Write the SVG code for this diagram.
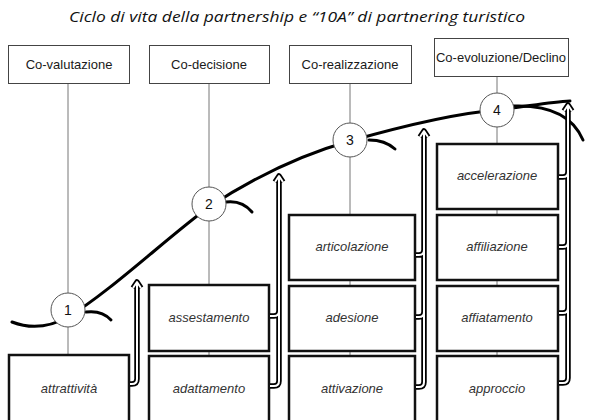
<svg xmlns="http://www.w3.org/2000/svg" width="598" height="420" viewBox="0 0 598 420">
<style>
.title{font-family:"Open Sans","Liberation Sans",sans-serif;font-style:italic;font-weight:400;font-size:14px;fill:#111}
.hbox{fill:#fff;stroke:#444;stroke-width:1}
.htxt{font-family:"Liberation Sans",Arial,sans-serif;font-size:13px;fill:#1a1a1a;text-anchor:middle}
.box{fill:#fff;stroke:#111;stroke-width:2.5}
.btxt{font-family:"Liberation Sans",Arial,sans-serif;font-style:italic;font-size:13px;fill:#333;text-anchor:middle}
.vline{stroke:#777;stroke-width:1;fill:none}
.curve{stroke:#000;stroke-width:3;fill:none;stroke-linecap:round}
.circ{fill:#fff;stroke:#555;stroke-width:1}
.ctxt{font-family:"Liberation Sans",Arial,sans-serif;font-size:14px;fill:#111;text-anchor:middle}
.ao{stroke:#000;stroke-width:5.5;fill:none;stroke-linejoin:round}
.ai{stroke:#fff;stroke-width:2;fill:none;stroke-linejoin:round}
</style>
<text class="title" x="297" y="22" text-anchor="middle" textLength="456" lengthAdjust="spacingAndGlyphs">Ciclo di vita della partnership e  “10A” di partnering turistico</text>

<g id="thin-lines">
<line class="vline" x1="68" y1="83" x2="68" y2="356"/>
<line class="vline" x1="209" y1="83" x2="209" y2="356"/>
<line class="vline" x1="350" y1="83" x2="350" y2="356"/>
<line class="vline" x1="497" y1="77" x2="497" y2="356"/>
</g>

<g id="connectors">
<path class="curve" d="M12,322 C30,329 50,327 68,317 C110,292 170,235 209,207 C250,180 300,155 350,141 C410,124 460,113 497,110 C530,106 550,102 570,101"/>
<path class="curve" d="M86,312 Q102,310 111,320"/>
<path class="curve" d="M226,202 Q242,200 252,212"/>
<path class="curve" d="M369,140 Q385,140 395,149"/>
<path class="curve" d="M513,106 Q568,104 583,140"/>
</g>

<g id="head-covalutazione"><rect class="hbox" x="8.5" y="45.5" width="121" height="38"/><text class="htxt" x="69" y="69">Co-valutazione</text></g>
<g id="head-codecisione"><rect class="hbox" x="149.5" y="45.5" width="120" height="38"/><text class="htxt" x="209" y="69">Co-decisione</text></g>
<g id="head-corealizzazione"><rect class="hbox" x="289.5" y="45.5" width="122" height="38"/><text class="htxt" x="350" y="69">Co-realizzazione</text></g>
<g id="head-coevoluzione"><rect class="hbox" x="434.5" y="38.5" width="134" height="38"/><text class="htxt" x="501" y="62">Co-evoluzione/Declino</text></g>

<g id="c1"><circle class="circ" cx="68" cy="310" r="17"/><text class="ctxt" x="68" y="315">1</text></g>
<g id="c2"><circle class="circ" cx="209" cy="204" r="17"/><text class="ctxt" x="209" y="209">2</text></g>
<g id="c3"><circle class="circ" cx="350" cy="140" r="17"/><text class="ctxt" x="350" y="145">3</text></g>
<g id="c4"><circle class="circ" cx="497" cy="110" r="17"/><text class="ctxt" x="497" y="115">4</text></g>

<g id="attrattivita"><rect class="box" x="9" y="355" width="120" height="75"/><text class="btxt" x="69" y="393">attrattività</text></g>
<g id="assestamento"><rect class="box" x="149" y="285" width="120" height="66"/><text class="btxt" x="209" y="322">assestamento</text></g>
<g id="adattamento"><rect class="box" x="149" y="356" width="120" height="74"/><text class="btxt" x="209" y="393">adattamento</text></g>
<g id="articolazione"><rect class="box" x="289" y="215" width="126" height="65"/><text class="btxt" x="352" y="251">articolazione</text></g>
<g id="adesione"><rect class="box" x="289" y="286" width="126" height="65"/><text class="btxt" x="352" y="322">adesione</text></g>
<g id="attivazione"><rect class="box" x="289" y="356" width="126" height="74"/><text class="btxt" x="352" y="393">attivazione</text></g>
<g id="accelerazione"><rect class="box" x="437" y="144" width="121" height="65"/><text class="btxt" x="497" y="180">accelerazione</text></g>
<g id="affiliazione"><rect class="box" x="437" y="215" width="121" height="65"/><text class="btxt" x="497" y="251">affiliazione</text></g>
<g id="affiatamento"><rect class="box" x="437" y="286" width="121" height="65"/><text class="btxt" x="497" y="322">affiatamento</text></g>
<g id="approccio"><rect class="box" x="437" y="356" width="121" height="74"/><text class="btxt" x="497" y="393">approccio</text></g>

<g id="arrows">
<g id="arrows-outer">
<path class="ao" d="M130,384 H132 Q137,384 137,379 V283 M133,288 L137,282 L141,288"/>
<path class="ao" d="M270,386 H274 Q279,386 279,381 V177 M275,182 L279,176 L283,182 M270,316 H274 Q279,316 279,311 V300"/>
<path class="ao" d="M416,387 H419 Q424,387 424,382 V132 M420,137 L424,131 L428,137 M416,317 H419 Q424,317 424,312 V300 M416,255 H419 Q424,255 424,250 V240"/>
<path class="ao" d="M559,383 H563 Q568,383 568,378 V106 M564,111 L568,105 L572,111 M559,313 H563 Q568,313 568,308 V298 M559,247 H563 Q568,247 568,242 V232 M559,177 H563 Q568,177 568,172 V162"/>
</g>
<g id="arrows-inner">
<path class="ai" d="M130,384 H132 Q137,384 137,379 V283 M133,288 L137,282 L141,288"/>
<path class="ai" d="M270,386 H274 Q279,386 279,381 V177 M275,182 L279,176 L283,182 M270,316 H274 Q279,316 279,311 V300"/>
<path class="ai" d="M416,387 H419 Q424,387 424,382 V132 M420,137 L424,131 L428,137 M416,317 H419 Q424,317 424,312 V300 M416,255 H419 Q424,255 424,250 V240"/>
<path class="ai" d="M559,383 H563 Q568,383 568,378 V106 M564,111 L568,105 L572,111 M559,313 H563 Q568,313 568,308 V298 M559,247 H563 Q568,247 568,242 V232 M559,177 H563 Q568,177 568,172 V162"/>
</g>
</g>
</svg>
